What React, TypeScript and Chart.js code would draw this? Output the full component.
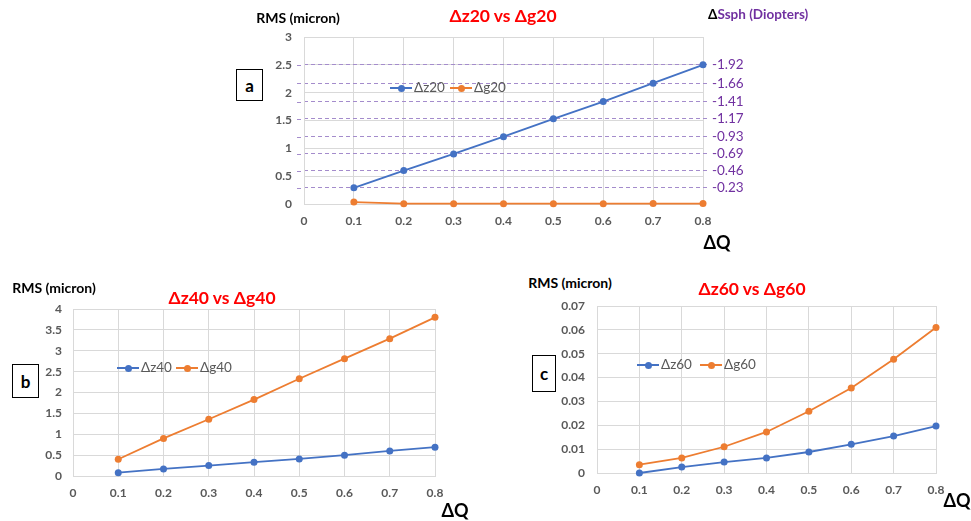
import React, { useEffect, useRef } from "react";
import { Chart, registerables } from "chart.js";
Chart.register(...registerables);

// ---------- data ----------
const dQ = [0.1, 0.2, 0.3, 0.4, 0.5, 0.6, 0.7, 0.8];
const xTickValues = [0, 0.1, 0.2, 0.3, 0.4, 0.5, 0.6, 0.7, 0.8];

const z20 = [0.29, 0.6, 0.9, 1.21, 1.53, 1.84, 2.17, 2.5];
const g20 = [0.035, 0.006, 0.005, 0.005, 0.005, 0.006, 0.007, 0.007];
const ssphLabels = ["-0.23", "-0.46", "-0.69", "-0.93", "-1.17", "-1.41", "-1.66", "-1.92"];
const yTicksA = [0, 0.5, 1, 1.5, 2, 2.5, 3];

const z40 = [0.08, 0.17, 0.25, 0.33, 0.41, 0.5, 0.6, 0.69];
const g40 = [0.4, 0.9, 1.36, 1.83, 2.33, 2.81, 3.29, 3.8];
const yTicksB = [0, 0.5, 1, 1.5, 2, 2.5, 3, 3.5, 4];

const z60 = [0.0, 0.0025, 0.0046, 0.0063, 0.0088, 0.012, 0.0155, 0.0197];
const g60 = [0.0035, 0.0063, 0.011, 0.0172, 0.0259, 0.0356, 0.0477, 0.061];
const yTicksC = [0, 0.01, 0.02, 0.03, 0.04, 0.05, 0.06, 0.07];

// ---------- style ----------
const FONT = "Lato, 'Open Sans', sans-serif";
const TICK = "#595959";
const GRID = "#d9d9d9";
const BLUE = "#4472C4";
const ORANGE = "#ED7D31";
const PURPLE = "#7030A0";
const DASH = "#a48ccc";

const fmt = (v: number, d: number) => String(Number(v.toFixed(d)));

type Series = { label: string; data: number[]; color: string };
type PanelProps = {
  left: number; top: number; width: number; height: number;
  padTop: number; padRight: number; leftW: number; xAxisH: number; yPad: number;
  yMax: number; yTicks: number[]; yDec: number;
  series: Series[];
  right?: { positions: number[]; labels: string[]; width: number };
};

const dashLeftPlugin = {
  id: "dashLeft",
  beforeDatasetsDraw(chart: any) {
    const s = chart.scales.y2;
    if (!s) return;
    const ctx = chart.ctx;
    ctx.save();
    ctx.strokeStyle = DASH;
    ctx.lineWidth = 1;
    ctx.setLineDash([4, 3]);
    s.ticks.forEach((t: any) => {
      const y = Math.round(s.getPixelForValue(t.value)) + 0.5;
      ctx.beginPath();
      ctx.moveTo(chart.chartArea.left - 7, y);
      ctx.lineTo(chart.chartArea.left, y);
      ctx.stroke();
    });
    ctx.restore();
  },
};

function Panel(p: PanelProps) {
  const ref = useRef<HTMLCanvasElement>(null);
  useEffect(() => {
    const tickFont = { family: FONT, size: 12, weight: "bold" as const };
    const scales: any = {
      x: {
        type: "linear", min: 0, max: 0.8,
        afterBuildTicks: (s: any) => { s.ticks = xTickValues.map((v) => ({ value: v })); },
        afterFit: (s: any) => { s.height = p.xAxisH; s.paddingLeft = 0; s.paddingRight = 0; },
        ticks: { callback: (v: any) => fmt(Number(v), 1), color: TICK, font: tickFont, padding: 10, maxRotation: 0, autoSkip: false },
        grid: { color: GRID, drawTicks: false },
        border: { color: GRID },
      },
      y: {
        type: "linear", position: "left", min: 0, max: p.yMax,
        afterBuildTicks: (s: any) => { s.ticks = p.yTicks.map((v) => ({ value: v })); },
        afterFit: (s: any) => { s.width = p.leftW; s.paddingTop = 0; s.paddingBottom = 0; },
        ticks: { callback: (v: any) => fmt(Number(v), p.yDec), color: TICK, font: tickFont, padding: p.yPad, autoSkip: false },
        grid: { color: GRID, drawTicks: false },
        border: { color: GRID },
      },
    };
    if (p.right) {
      const r = p.right;
      scales.y2 = {
        type: "linear", position: "right", min: 0, max: p.yMax,
        afterBuildTicks: (s: any) => { s.ticks = r.positions.map((v) => ({ value: v })); },
        afterFit: (s: any) => { s.width = r.width; s.paddingTop = 0; s.paddingBottom = 0; },
        ticks: { callback: (_v: any, i: number) => r.labels[i], color: PURPLE, font: { family: FONT, size: 13.5 }, padding: 3, autoSkip: false },
        grid: { color: DASH, drawOnChartArea: true, tickLength: 6, tickColor: DASH, tickBorderDash: [4, 3] },
        border: { display: false, dash: [4, 3] },
      };
    }
    const chart = new Chart(ref.current as HTMLCanvasElement, {
      type: "line",
      data: {
        datasets: p.series.map((s) => ({
          label: s.label,
          data: dQ.map((x, i) => ({ x, y: s.data[i] })),
          borderColor: s.color,
          backgroundColor: s.color,
          pointRadius: 3.5,
          pointBorderWidth: 0,
          borderWidth: 1.8,
          clip: false as any,
          yAxisID: "y",
        })),
      },
      options: {
        responsive: false,
        animation: false,
        devicePixelRatio: 1,
        layout: { padding: { top: p.padTop, right: p.padRight, left: 0, bottom: 0 } },
        plugins: { legend: { display: false }, title: { display: false }, tooltip: { enabled: false } },
        scales,
      },
      plugins: [dashLeftPlugin],
    });
    return () => chart.destroy();
  }, []);
  return (
    <canvas
      ref={ref}
      width={p.width}
      height={p.height}
      style={{ position: "absolute", left: p.left, top: p.top, width: p.width, height: p.height }}
    />
  );
}

function Txt(props: { x: number; y: number; size: number; color?: string; bold?: boolean; children: React.ReactNode }) {
  return (
    <div
      style={{
        position: "absolute", left: props.x, top: props.y, transform: "translate(-50%, -50%)",
        fontFamily: FONT, fontSize: props.size, fontWeight: props.bold ? 700 : 400,
        color: props.color || "#000", whiteSpace: "nowrap", lineHeight: 1,
      }}
    >
      {props.children}
    </div>
  );
}

function Box(props: { x: number; y: number; w: number; h: number; letter: string }) {
  return (
    <div
      style={{
        position: "absolute", left: props.x, top: props.y, width: props.w, height: props.h,
        border: "1.5px solid #000", boxSizing: "border-box", display: "flex",
        alignItems: "center", justifyContent: "center", fontFamily: FONT, fontWeight: 700,
        fontSize: 17, background: "#fff",
      }}
    >
      {props.letter}
    </div>
  );
}

function LegendItem(props: { x: number; y: number; color: string; label: string }) {
  return (
    <div style={{ position: "absolute", left: props.x, top: props.y - 8, height: 16, display: "flex", alignItems: "center" }}>
      <div style={{ position: "relative", width: 22, height: 16 }}>
        <div style={{ position: "absolute", left: 0, top: 7, width: 22, height: 2, background: props.color }} />
        <div style={{ position: "absolute", left: 7.5, top: 4.5, width: 7, height: 7, borderRadius: "50%", background: props.color }} />
      </div>
      <span style={{ marginLeft: 2, fontFamily: FONT, fontSize: 13.5, color: TICK, lineHeight: 1 }}>{props.label}</span>
    </div>
  );
}

export default function App() {
  return (
    <div style={{ position: "absolute", left: 0, top: 0, width: 971, height: 521, background: "#fff", overflow: "hidden" }}>
      {/* Panel a */}
      <Panel
        left={240} top={25} width={530} height={209}
        padTop={12} padRight={0} leftW={64} xAxisH={30} yPad={12}
        yMax={3} yTicks={yTicksA} yDec={1}
        series={[{ label: "Δz20", data: z20, color: BLUE }, { label: "Δg20", data: g20, color: ORANGE }]}
        right={{ positions: z20, labels: ssphLabels, width: 67 }}
      />
      <Txt x={298} y={18} size={14} bold>RMS (micron)</Txt>
      <Txt x={503} y={16} size={17.5} bold color="#ff0000">Δz20 vs Δg20</Txt>
      <div style={{ position: "absolute", left: 708, top: 8, fontFamily: FONT, fontSize: 13.5, fontWeight: 700, color: PURPLE, whiteSpace: "nowrap", lineHeight: 1 }}>
        <span style={{ color: "#000" }}>Δ</span>Ssph (Diopters)
      </div>
      <Box x={236} y={69} w={27} h={32} letter="a" />
      <LegendItem x={390} y={88} color={BLUE} label="Δz20" />
      <LegendItem x={450} y={88} color={ORANGE} label="Δg20" />
      <Txt x={717} y={242} size={18} bold>ΔQ</Txt>

      {/* Panel b */}
      <Panel
        left={20} top={295} width={430} height={211}
        padTop={14} padRight={15} leftW={53} xAxisH={30} yPad={11}
        yMax={4} yTicks={yTicksB} yDec={1}
        series={[{ label: "Δz40", data: z40, color: BLUE }, { label: "Δg40", data: g40, color: ORANGE }]}
      />
      <Txt x={54} y={288} size={14} bold>RMS (micron)</Txt>
      <Txt x={222} y={298} size={17.5} bold color="#ff0000">Δz40 vs Δg40</Txt>
      <Box x={12} y={364} w={27} h={34} letter="b" />
      <LegendItem x={117} y={368} color={BLUE} label="Δz40" />
      <LegendItem x={176} y={368} color={ORANGE} label="Δg40" />
      <Txt x={455} y={510} size={18} bold>ΔQ</Txt>

      {/* Panel c */}
      <Panel
        left={540} top={292} width={410} height={211}
        padTop={14} padRight={14} leftW={57} xAxisH={30} yPad={12}
        yMax={0.07} yTicks={yTicksC} yDec={2}
        series={[{ label: "Δz60", data: z60, color: BLUE }, { label: "Δg60", data: g60, color: ORANGE }]}
      />
      <Txt x={570} y={283} size={14} bold>RMS (micron)</Txt>
      <Txt x={752} y={289} size={17.5} bold color="#ff0000">Δz60 vs Δg60</Txt>
      <Box x={532} y={355} w={24} h={37} letter="c" />
      <LegendItem x={637} y={365} color={BLUE} label="Δz60" />
      <LegendItem x={700} y={365} color={ORANGE} label="Δg60" />
      <Txt x={957} y={500} size={18} bold>ΔQ</Txt>
    </div>
  );
}
